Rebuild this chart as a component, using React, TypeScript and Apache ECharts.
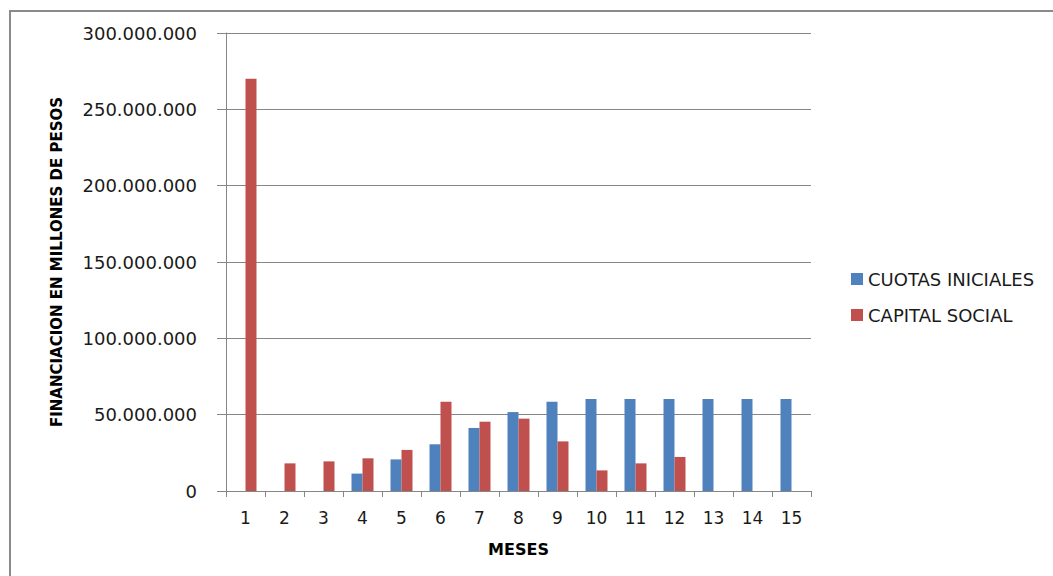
import React, { useEffect, useRef } from "react";
import * as echarts from "echarts";

// Months on the x axis
const meses = ["1", "2", "3", "4", "5", "6", "7", "8", "9", "10", "11", "12", "13", "14", "15"];

// Financing per month (pesos)
const cuotasIniciales = [
  0, 0, 0, 11400000, 20700000, 30600000, 41300000, 51700000, 58500000,
  60300000, 60300000, 60300000, 60300000, 60300000, 60300000,
];
const capitalSocial = [
  270000000, 18100000, 19400000, 21400000, 26900000, 58500000, 45400000,
  47400000, 32500000, 13500000, 18100000, 22300000, 0, 0, 0,
];

const serieNames = ["CUOTAS INICIALES", "CAPITAL SOCIAL"];
const FONT = "DejaVu Sans";

const fmt = (v: number) =>
  v === 0 ? "0" : String(Math.round(v)).replace(/\B(?=(\d{3})+(?!\d))/g, ".");

export default function App() {
  const ref = useRef<HTMLDivElement>(null);

  useEffect(() => {
    if (!ref.current) return;
    const chart = echarts.init(ref.current, undefined, { renderer: "svg" });
    chart.setOption({
      animation: false,
      backgroundColor: "#ffffff",
      textStyle: { fontFamily: FONT },
      graphic: [
        {
          type: "rect",
          shape: { x: 10, y: 11, width: 1100, height: 620 },
          style: { fill: "none", stroke: "#8a8a8a", lineWidth: 2 },
          silent: true,
        },
      ],
      grid: { left: 226, right: 242, top: 33, bottom: 85 },
      legend: {
        orient: "vertical",
        left: 846,
        top: 264,
        itemWidth: 12,
        itemHeight: 12,
        itemGap: 16,
        icon: "rect",
        data: serieNames,
        textStyle: { fontFamily: FONT, fontSize: 18, color: "#1a1a1a", lineHeight: 20 },
      },
      xAxis: {
        type: "category",
        data: meses,
        name: "MESES",
        nameLocation: "middle",
        nameGap: 50,
        nameTextStyle: { fontFamily: FONT, fontSize: 16, fontWeight: "bold", color: "#000" },
        axisLine: { lineStyle: { color: "#868686", width: 1 } },
        axisTick: { show: true, length: 6, lineStyle: { color: "#868686" } },
        axisLabel: { fontFamily: FONT, fontSize: 17, color: "#1a1a1a", margin: 18 },
      },
      yAxis: {
        type: "value",
        min: 0,
        max: 300000000,
        interval: 50000000,
        name: "FINANCIACION EN MILLONES DE PESOS",
        nameLocation: "middle",
        nameRotate: 90,
        nameGap: 162,
        nameTextStyle: { fontFamily: FONT, fontSize: 15, fontWeight: "bold", color: "#000" },
        axisLine: { show: true, lineStyle: { color: "#868686", width: 1 } },
        axisTick: { show: true, length: 9, lineStyle: { color: "#868686" } },
        splitLine: { lineStyle: { color: "#868686", width: 1 } },
        axisLabel: {
          fontFamily: FONT,
          fontSize: 18,
          color: "#1a1a1a",
          margin: 29,
          formatter: fmt,
        },
      },
      series: [
        {
          name: serieNames[0],
          type: "bar",
          data: cuotasIniciales,
          barWidth: 11,
          barGap: "0%",
          itemStyle: { color: "#4F81BD" },
        },
        {
          name: serieNames[1],
          type: "bar",
          data: capitalSocial,
          barWidth: 11,
          barGap: "0%",
          itemStyle: { color: "#C0504D" },
        },
      ],
    });
    return () => chart.dispose();
  }, []);

  return (
    <div
      ref={ref}
      style={{ position: "fixed", left: 0, top: 0, width: 1053, height: 576 }}
    />
  );
}
